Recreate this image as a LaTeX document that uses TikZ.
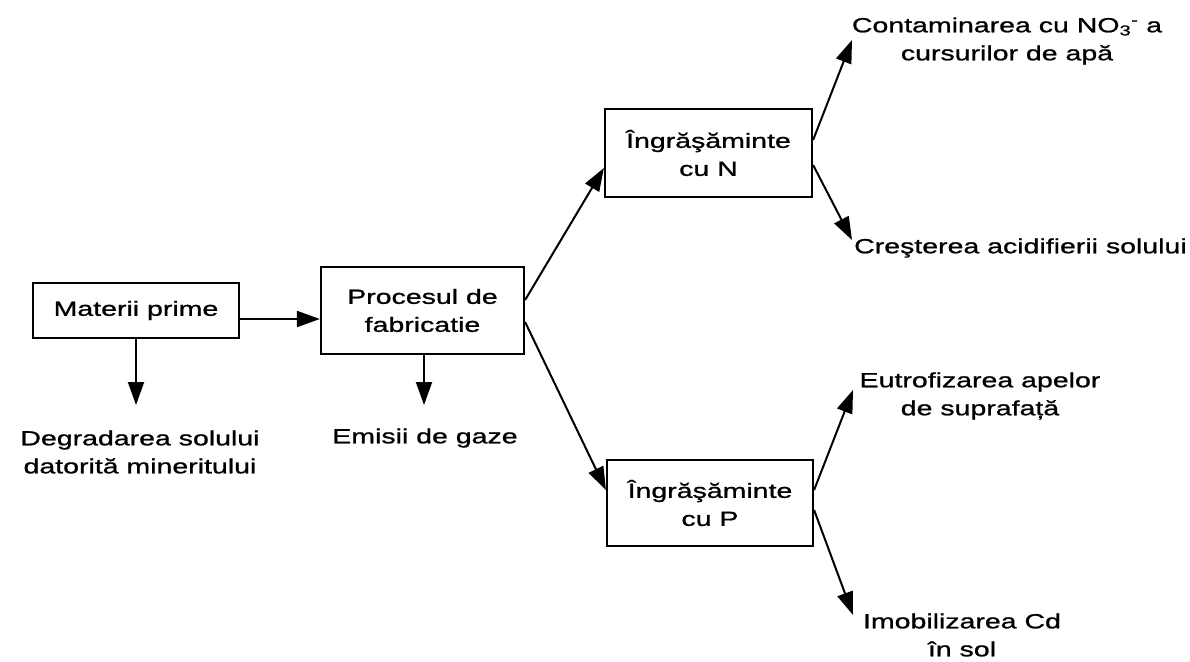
\documentclass[tikz,border=0pt]{standalone}
\usepackage{fontspec}
\setmainfont{Liberation Sans}[FakeStretch=1.39,FakeBold=1.0]
\usetikzlibrary{arrows.meta,calc}
\begin{document}
\begin{tikzpicture}[x=1pt,y=-1pt,
  txt/.style={font=\fontsize{20.5}{28}\selectfont, align=center, inner sep=0pt},
  box/.style={txt, draw, line width=2.2pt, fill=white},
  arr/.style={-{Triangle[length=23pt,width=16pt]}, line width=2pt}]
\useasboundingbox[fill=white] (0,0) rectangle (1190,661);
% boxes
\node[box, minimum width=206pt, minimum height=55pt] (mat) at (136,310.5) {Materii prime};
\node[box, minimum width=203pt, minimum height=87pt] (proc) at (422.5,310.5) {Procesul de\\fabricatie};
\node[box, minimum width=207pt, minimum height=88pt] (ingN) at (708.5,153) {Îngrăşăminte\\cu N};
\node[box, minimum width=206pt, minimum height=86pt] (ingP) at (710,503) {Îngrăşăminte\\cu P};
% texts
\node[txt] (degr) at (140,452) {Degradarea solului\\datorită mineritului};
\node[txt] (emis) at (425,438) {Emisii de gaze};
\node[txt] (contam) at (1007,41) {Contaminarea cu NO\textsubscript{3}\textsuperscript{-} a\\cursurilor de apă};
\node[txt, anchor=west] (crest) at (854,248) {Creşterea acidifierii solului};
\node[txt] (eutro) at (980,396) {Eutrofizarea apelor\\de suprafață};
\node[txt] (imob) at (962,635) {Imobilizarea Cd\\în sol};
% arrow tips
\coordinate (tDegr) at (136,405);
\coordinate (tEmis) at (424,405);
\coordinate (tContam) at (852,40);
\coordinate (tCrest) at (852,240);
\coordinate (tEutro) at (853,390);
\coordinate (tImob) at (853,615);
% connectors
\draw[arr] ($(mat.east)+(0,8.5)$) -- ($(proc.west)+(0,8.5)$);
\draw[arr] (mat.south) -- (tDegr);
\draw[arr] ($(proc.south)+(1.5,0)$) -- (tEmis);
\draw[arr] ($(proc.east)+(0,-10.5)$) -- ($(ingN.west)+(0,15)$);
\draw[arr] ($(proc.east)+(0,11.5)$) -- ($(ingP.west)+(0,-13)$);
\draw[arr] ($(ingN.east)+(0,-13)$) -- (tContam);
\draw[arr] ($(ingN.east)+(0,12)$) -- (tCrest);
\draw[arr] ($(ingP.east)+(0,-13)$) -- (tEutro);
\draw[arr] ($(ingP.east)+(0,7)$) -- (tImob);
\end{tikzpicture}
\end{document}
